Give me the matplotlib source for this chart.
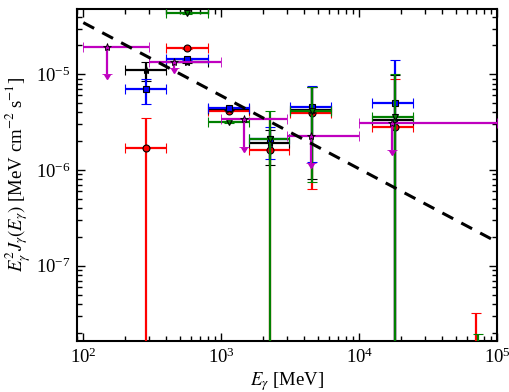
import numpy as np
import matplotlib
matplotlib.use('Agg')
import matplotlib.pyplot as plt

plt.rcParams['font.family'] = ['Liberation Serif', 'DejaVu Serif']
plt.rcParams['mathtext.fontset'] = 'stix'
plt.rcParams['font.size'] = 13.5

FLOOR = 1e-10  # error bars running off the bottom of the plot

# red circles
red_E = [283, 566, 1131, 2263, 4525, 18100, 70000]
red_Elo = [200, 400, 800, 1600, 3130, 12300, 51200]
red_Ehi = [400, 800, 1600, 3100, 6270, 24400, 102400]
red_F = [1.69e-6, 1.87e-5, 4.14e-6, 1.62e-6, 3.9e-6, 2.84e-6, 1.0e-8]
red_Fhi = [3.5e-6, 1.9e-5, 4.2e-6, 3.5e-6, 7.3e-6, 9.0e-6, 3.18e-8]
red_Flo = [FLOOR, 1.84e-5, 4.1e-6, FLOOR, 6.3e-7, FLOOR, FLOOR]

# blue squares
blue_E = [283, 566, 1131, 2263, 4525, 18100]
blue_Elo = [200, 400, 800, 1600, 3130, 12300]
blue_Ehi = [400, 800, 1600, 3100, 6270, 24400]
blue_F = [7.0e-6, 1.44e-5, 4.46e-6, 2.09e-6, 4.52e-6, 4.97e-6]
blue_Fhi = [8.9e-6, 1.47e-5, 4.5e-6, 2.84e-6, 7.5e-6, 1.4e-5]
blue_Flo = [4.86e-6, 1.41e-5, 4.4e-6, 1.3e-6, 1.22e-6, FLOOR]

# black stars
blk_E = [283, 566, 1131, 2263, 4525, 18100]
blk_Elo = [200, 400, 800, 1600, 3130, 12300]
blk_Ehi = [400, 800, 1600, 3100, 6270, 24400]
blk_F = [1.11e-5, 1.35e-5, 4.3e-6, 1.93e-6, 4.24e-6, 3.33e-6]
blk_Fhi = [1.35e-5, 1.38e-5, 4.35e-6, 2.62e-6, 7.3e-6, 9.8e-6]
blk_Flo = [8.5e-6, 1.32e-5, 4.25e-6, 1.13e-6, 8.05e-7, FLOOR]

# green triangles
grn_E = [566, 1131, 2263, 4525, 18100, 72400]
grn_Elo = [400, 800, 1600, 3130, 12300, 51200]
grn_Ehi = [800, 1600, 3100, 6270, 24400, 102400]
grn_F = [4.4e-5, 3.15e-6, 2.1e-6, 4.14e-6, 3.55e-6, 5e-9]
grn_Fhi = [4.5e-5, 3.2e-6, 4.17e-6, 7.4e-6, 1.01e-5, 1.92e-8]
grn_Flo = [4.3e-5, 3.1e-6, FLOOR, 7.55e-7, FLOOR, FLOOR]

# magenta upper limits
mag_E = [148, 451, 1459, 4435, 17300]
mag_Elo = [100, 300, 1000, 3000, 10000]
mag_Ehi = [300, 1000, 3000, 10000, 100000]
mag_F = [1.94e-5, 1.33e-5, 3.41e-6, 2.27e-6, 3.08e-6]
mag_Fend = [1.0e-5, 1.16e-5, 1.75e-6, 1.18e-6, 1.62e-6]

# dashed reference power law
line_E = [100, 1e5]
line_norm = 3.46e-5
line_index = -0.764

fig = plt.figure(figsize=(5.1, 3.92), dpi=100)
ax = fig.add_axes([0.151, 0.131, 0.824, 0.846])


def series(E, Elo, Ehi, F, Flo, Fhi, color, marker, ms, z):
    E = np.array(E); F = np.array(F)
    xerr = [E - np.array(Elo), np.array(Ehi) - E]
    yerr = [F - np.array(Flo), np.array(Fhi) - F]
    ax.errorbar(E, F, xerr=xerr, yerr=yerr, fmt=marker, color=color,
                mfc=color, mec='k', mew=0.8, ms=ms, elinewidth=1.6,
                capsize=3.5, capthick=1.4, zorder=z)


series(red_E, red_Elo, red_Ehi, red_F, red_Flo, red_Fhi, 'r', 'o', 5, 3)
series(blk_E, blk_Elo, blk_Ehi, blk_F, blk_Flo, blk_Fhi, 'k', '*', 6, 4)
series(blue_E, blue_Elo, blue_Ehi, blue_F, blue_Flo, blue_Fhi, 'b', 's', 5, 5)
series(grn_E, grn_Elo, grn_Ehi, grn_F, grn_Flo, grn_Fhi, 'g', 'v', 5, 6)

mE = np.array(mag_E); mF = np.array(mag_F)
ax.errorbar(mE, mF, xerr=[mE - np.array(mag_Elo), np.array(mag_Ehi) - mE],
            yerr=[mF - np.array(mag_Fend), np.zeros_like(mF)],
            fmt='*', color='m', mfc='m', mec='k', mew=0.6, ms=6,
            elinewidth=1.6, capsize=3.5, capthick=1.4, zorder=7)
ax.plot(mE, mag_Fend, ls='none', marker=11, color='m', ms=5, zorder=7)

lE = np.array(line_E)
ax.plot(lE, line_norm * (lE / 100.0) ** line_index, 'k--', lw=2.2,
        dashes=(4, 3), zorder=8)

ax.set_xscale('log')
ax.set_yscale('log')
ax.set_xlim(90, 1e5)
ax.set_ylim(1.65e-8, 4.8e-5)
ax.set_xlabel(r'$E_\gamma$ [MeV]', labelpad=2)
ax.set_ylabel(r'$E_\gamma^2 J_\gamma(E_\gamma)$ [MeV cm$^{-2}$ s$^{-1}$]',
              labelpad=2)

for s in ax.spines.values():
    s.set_linewidth(1.5)
ax.tick_params(which='both', direction='in', top=True, right=True, width=1.0)
ax.tick_params(which='major', length=6, pad=5)
ax.tick_params(which='minor', length=3.5)

fig.savefig('out.png', dpi=100)
